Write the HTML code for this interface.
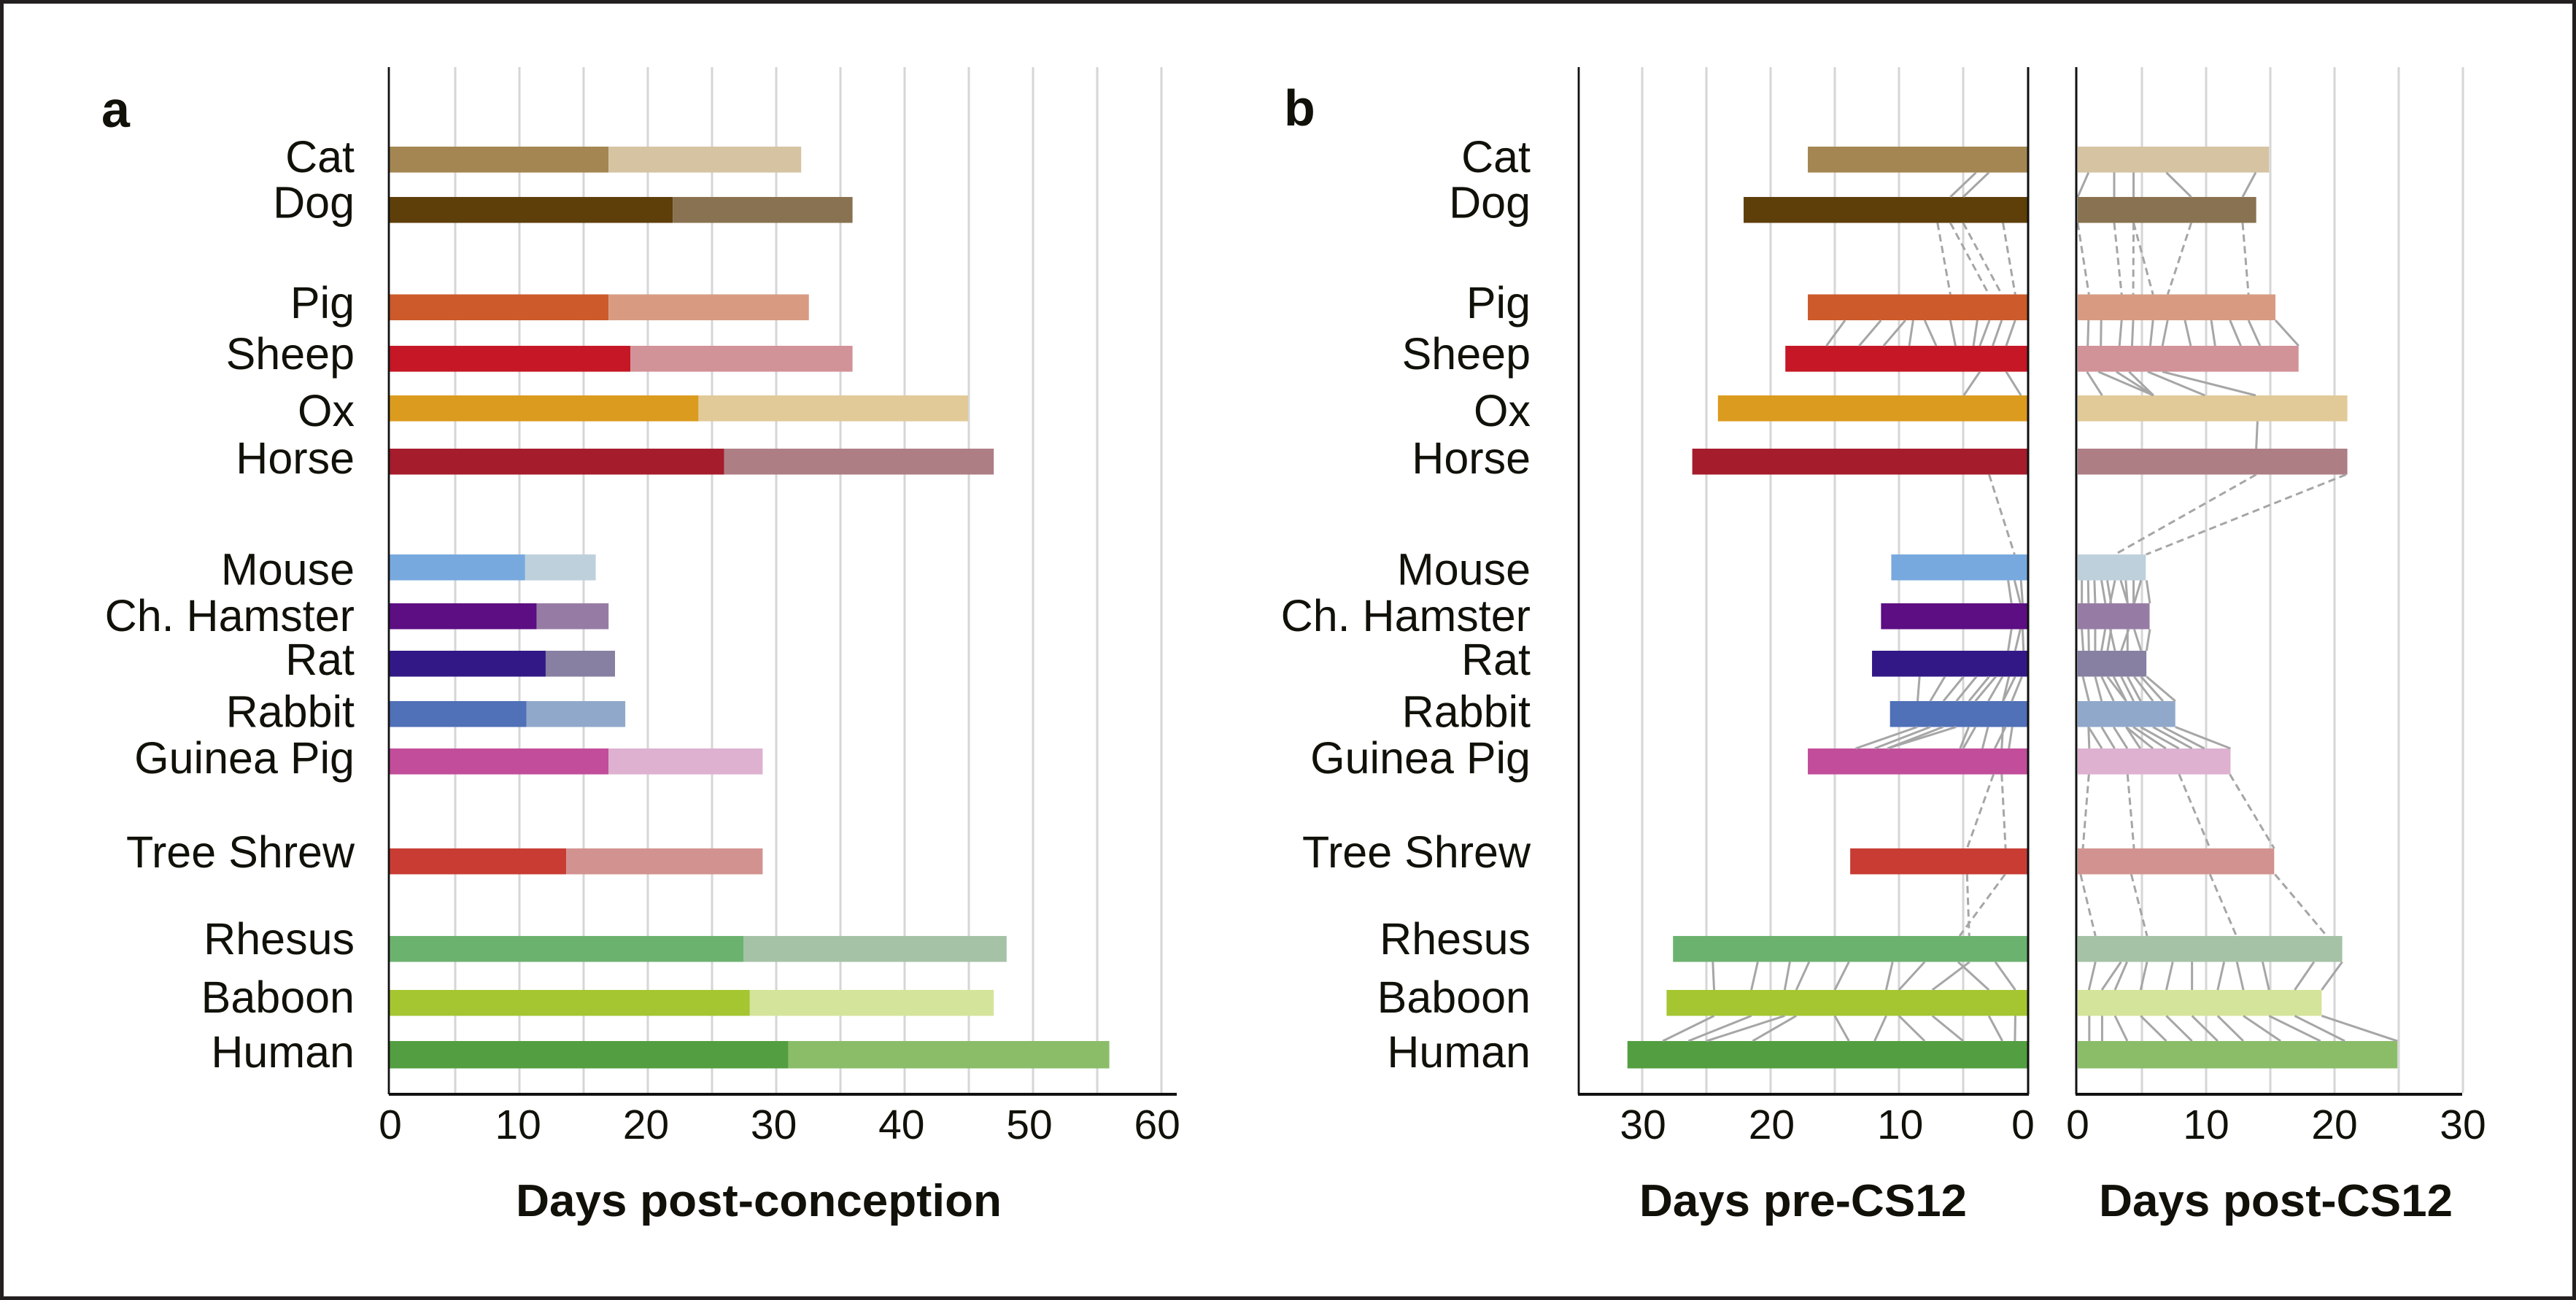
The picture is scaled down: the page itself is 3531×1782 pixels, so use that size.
<!DOCTYPE html>
<html lang="en">
<head>
<meta charset="utf-8">
<title>Gestation timelines by species</title>
<style>
html,body{margin:0;padding:0;background:#fff;}
svg{display:block;font-family:"Liberation Sans",sans-serif;fill:#11110a;}
</style>
</head>
<body>
<svg id="chart" xmlns="http://www.w3.org/2000/svg" width="3531" height="1782" viewBox="0 0 3531 1782">
  <rect x="0" y="0" width="3531" height="1782" fill="#fff"/>
  <rect x="2.5" y="2.5" width="3526" height="1777" fill="none" stroke="#231f20" stroke-width="5"/>
  <g id="grid"></g><g id="bars"></g><g id="links"></g><g id="axes"></g><g id="labels"></g>
  <text x="139" y="174" font-size="70" font-weight="700">a</text>
  <text x="1760" y="172" font-size="70" font-weight="700">b</text>
  <text x="1040" y="1667" font-size="62" font-weight="700" text-anchor="middle" textLength="666" lengthAdjust="spacingAndGlyphs">Days post-conception</text>
  <text x="2471.5" y="1667" font-size="62" font-weight="700" text-anchor="middle" textLength="449" lengthAdjust="spacingAndGlyphs">Days pre-CS12</text>
  <text x="3119.5" y="1667" font-size="62" font-weight="700" text-anchor="middle" textLength="485" lengthAdjust="spacingAndGlyphs">Days post-CS12</text>
</svg>
<script>
const species=['Cat','Dog','Pig','Sheep','Ox','Horse','Mouse','Ch. Hamster','Rat','Rabbit','Guinea Pig','Tree Shrew','Rhesus','Baboon','Human'];
const preDaysA=[17,22,17,18.7,24,26,10.5,11.4,12.1,10.6,17,13.7,27.5,28,31];
const totalDaysA=[32,36,32.6,36,45,47,16,17,17.5,18.3,29,29,48,47,56];
const preDaysB=[17.1,22.1,17.1,18.85,24.1,26.1,10.6,11.4,12.1,10.7,17.1,13.8,27.6,28.1,31.15];
const postDaysB=[14.9,13.9,15.4,17.2,21,21,5.3,5.6,5.35,7.6,11.9,15.3,20.6,19,24.9];
const darkColors=['#a48652','#5e3f09','#cc5a2b','#c51726','#db9b1e','#a51c2c','#78a9de','#5c0e82','#321886','#5070b7','#c24d9b','#c83c34','#6cb26f','#a5c630','#539e40'];
const lightColors=['#d6c3a2','#897251','#d89b82','#d19298','#e1ca98','#ae7e85','#bed0dc','#967ca5','#8780a2','#90a9cb','#ddb1cf','#d29290','#a5c2a7','#d5e49b','#8bbd69'];
const ticksA=[0,10,20,30,40,50,60];
const gridA=[5,10,15,20,25,30,35,40,45,50,55,60];
const ticksB=[0,10,20,30];
const gridB=[5,10,15,20,25,30];

// Connector day pairs: [day on upper bar, day on lower bar]
const preCatDog=[[4,6],[3,5]];
const preDogPig=[[7,6],[6,3],[5,2],[1.9,0.95]];
const prePigSheep=[[14.2,15.65],[11.4,13.1],[9.5,11.2],[8.9,9.2],[8,7.1],[6,5.6],[3.9,4.2],[2.95,3.7],[2,2.7],[0.95,1.65]];
const preSheepOx=[[3.7,4.95],[1.65,0.5]];
const preHorseMouse=[[2.98,1]];
const preMouseHamster=[[1.5,1.24],[1,0.55],[0.5,0.37]];
const preHamsterRat=[[1.24,1.5],[0.55,0.95],[0.37,0.3]];
const preRatRabbit=[[8.4,8.55],[6.43,7.56],[4.98,6.54],[3.97,5.53],[2.98,4.55],[2.46,4.05],[1.94,3.04],[0.95,1.9],[1.44,1.9],[0.43,1.21]];
const preRabbitGuinea=[[8.57,13.38],[7.56,11.9],[6.57,10.9],[5.56,10.9],[4.57,5.24],[4.05,5],[3.07,3.5],[1.7,2.54],[1.9,2],[1.18,1.44]];
const preGuineaTree=[[2.64,4.7],[2,1.7]];
const preTreeRhesus=[[4.7,4.53],[1.74,5.28]];
const preRhesusBaboon=[[24.5,24.4],[21,21.5],[18.5,18.9],[17,18],[13.9,15],[10.5,11],[8,10],[4.5,7.4],[5.4,3],[2.5,0.94]];
const preBaboonHuman=[[24.4,28.4],[21.5,26.4],[18.9,25],[18,21.4],[15,13.9],[11,11.9],[10,8],[7.4,5],[3,1.95],[0.94,0.97]];

const postCatDog=[[0.84,0],[2.84,2.84],[4.35,4.35],[6.9,8.84],[13.86,12.84]];
const postDogPig=[[0,0.87],[2.84,3.42],[4.35,4.32],[4.35,5.86],[8.84,7.01],[12.84,13.3]];
const postPigSheep=[[0.84,0.78],[1.83,1.8],[3.42,3.25],[4.32,4.23],[5.86,5.65],[7,6.6],[8.35,8.8],[10.4,10.7],[11.86,12.7],[13.3,14.2],[15.4,17.2]];
const postSheepOx=[[0.72,1.9],[1.6,5.9],[3,5.9],[4,5.9],[5.45,9.9],[6.6,13.86]];
const postOxHorse=[[14,13.9]];
const postHorseMouse=[[13.9,2.9],[20.9,5.33]];
const postMouseHamster=[[0.32,0.32],[0.81,0.84],[1.3,1.36],[1.85,2.15],[2.3,2.6],[2.9,2.52],[3.35,3.88],[3.74,3.88],[4.35,4.35],[4.93,4.4],[5.36,5.62]];
const postHamsterRat=[[0.32,0.43],[0.84,0.87],[1.36,1.36],[2.14,1.85],[2.6,2.32],[2.52,2.9],[3.97,3.39],[3.88,3.88],[4.4,4.93],[5.62,5.36]];
const postRatRabbit=[[0.4,0.87],[1.36,1.86],[1.86,2.8],[2.32,3.77],[2.8,3.77],[3.39,4.35],[3.88,4.9],[4.4,5.86],[4.93,6.64],[5.36,7.6]];
const postRabbitGuinea=[[0.84,0.9],[0.84,1.88],[1.86,2.87],[2.8,3.86],[3.77,4.87],[3.77,5.86],[4.32,6.87],[4.9,7.88],[5.86,8.9],[6.64,9.86],[7.6,11.9]];
const postGuineaTree=[[0.87,0.4],[3.88,4.38],[7.9,10.3],[11.85,15.3]];
const postTreeRhesus=[[0.22,1.38],[4.17,5.4],[10.3,12.36],[15.36,19.4]];
const postRhesusBaboon=[[1.38,0.87],[3.37,1.88],[3.84,2.9],[5.4,4.9],[7.4,6.9],[8.9,8.9],[11.4,10.9],[12.4,12.9],[14.4,14.9],[18.4,16.9],[20.6,19]];
const postBaboonHuman=[[0.9,0.9],[1.9,1.9],[2.9,3.86],[4.9,6.9],[6.9,8.9],[8.9,10.9],[10.9,12.9],[12.9,15.8],[14.9,18.9],[16.9,20.8],[19,24.9]];

const preLinkSets=[['Cat','Dog',preCatDog,false],['Dog','Pig',preDogPig,true],['Pig','Sheep',prePigSheep,false],['Sheep','Ox',preSheepOx,false],['Horse','Mouse',preHorseMouse,true],['Mouse','Ch. Hamster',preMouseHamster,false],['Ch. Hamster','Rat',preHamsterRat,false],['Rat','Rabbit',preRatRabbit,false],['Rabbit','Guinea Pig',preRabbitGuinea,false],['Guinea Pig','Tree Shrew',preGuineaTree,true],['Tree Shrew','Rhesus',preTreeRhesus,true],['Rhesus','Baboon',preRhesusBaboon,false],['Baboon','Human',preBaboonHuman,false]];
const postLinkSets=[['Cat','Dog',postCatDog,false],['Dog','Pig',postDogPig,true],['Pig','Sheep',postPigSheep,false],['Sheep','Ox',postSheepOx,false],['Ox','Horse',postOxHorse,false],['Horse','Mouse',postHorseMouse,true],['Mouse','Ch. Hamster',postMouseHamster,false],['Ch. Hamster','Rat',postHamsterRat,false],['Rat','Rabbit',postRatRabbit,false],['Rabbit','Guinea Pig',postRabbitGuinea,false],['Guinea Pig','Tree Shrew',postGuineaTree,true],['Tree Shrew','Rhesus',postTreeRhesus,true],['Rhesus','Baboon',postRhesusBaboon,false],['Baboon','Human',postBaboonHuman,false]];

const NS='http://www.w3.org/2000/svg';
function sxA(v){return 536+17.6*v;}
function barXA(v){return 535+17.6*v;}
function sxPre(v){return 2779-17.6*v;}
function sxPost(v){return 2848+17.6*v;}
function labelXA(v){return 535+17.52*v;}
function labelXPre(v){return v===0?2773:2781+v*-17.63;}
function labelXPost(v){return 2848+17.6*v;}
function rowTop(i){
  const slot=[0,1.006,2.952,3.98,4.971,6.035,8.149,9.125,10.073,11.079,12.026,14.023,15.773,16.851,17.872][i];
  return 201+68.6*slot;
}
function rowHeight(i){return i===14?37.5:35.5;}
function rowBottom(i){return rowTop(i)+rowHeight(i);}
function labelBaseline(i){
  return [236,298.5,436,506,584,649,801.7,865,925,996.7,1060,1189,1308,1388,1463][i];
}
function make(tag,parent,attrs,text){
  const el=document.createElementNS(NS,tag);
  for(const k in attrs){el.setAttribute(k,attrs[k]);}
  if(text!==undefined){el.textContent=String(text);}
  parent.appendChild(el);
  return el;
}
function slug(s){return s.toLowerCase().replace(/[^a-z]+/g,'-');}
const gGrid=document.getElementById('grid'),gBars=document.getElementById('bars'),gLinks=document.getElementById('links'),gAxes=document.getElementById('axes'),gLabels=document.getElementById('labels');
const GRID_TOP=92,GRID_BOTTOM=1498,AXIS_Y=1500;

function drawGrid(values,sx,panel){
  values.forEach(function(v){
    const el=make('line',gGrid,{x1:sx(v),x2:sx(v),y1:GRID_TOP,y2:GRID_BOTTOM,stroke:'#d6d6d6','stroke-width':3});
    
    
  });
}
drawGrid(gridA,sxA,'panel-a');
drawGrid(gridB,sxPre,'pre-cs12');
drawGrid(gridB,sxPost,'post-cs12');

species.forEach(function(name,i){
  const y=rowTop(i),h=rowHeight(i),s=slug(name);
  const a1=make('rect',gBars,{x:barXA(0)-2,y:y,width:barXA(preDaysA[i])-barXA(0)+2,height:h,fill:darkColors[i]});
  
  
  const a2=make('rect',gBars,{x:barXA(preDaysA[i]),y:y,width:barXA(totalDaysA[i])-barXA(preDaysA[i]),height:h,fill:lightColors[i]});
  
  
  const b1=make('rect',gBars,{x:sxPre(preDaysB[i]),y:y,width:sxPre(0)-sxPre(preDaysB[i]),height:h,fill:darkColors[i]});
  
  
  const b2=make('rect',gBars,{x:sxPost(0),y:y,width:sxPost(postDaysB[i])-sxPost(0),height:h,fill:lightColors[i]});
  
  
  const la=make('text',gLabels,{x:486,y:labelBaseline(i),'font-size':61,'text-anchor':'end'},name);
  
  
  const lb=make('text',gLabels,{x:2098,y:labelBaseline(i),'font-size':61,'text-anchor':'end'},name);
  
  
});

function drawLinks(sets,sx,panel){
  sets.forEach(function(set){
    const u=species.indexOf(set[0]),l=species.indexOf(set[1]);
    set[2].forEach(function(pair,k){
      const el=make('line',gLinks,{x1:sx(pair[0]),y1:rowBottom(u),x2:sx(pair[1]),y2:rowTop(l),stroke:'#a6a6a6','stroke-width':3});
      if(set[3]){el.setAttribute('stroke-dasharray','10 6');}
      
      
    });
  });
}
drawLinks(preLinkSets,sxPre,'pre-cs12');
drawLinks(postLinkSets,sxPost,'post-cs12');

function axisLine(name,x1,y1,x2,y2,w){
  const el=make('line',gAxes,{x1:x1,y1:y1,x2:x2,y2:y2,stroke:'#111','stroke-width':w});
  
  
}
axisLine('panel-a-y-axis',533,GRID_TOP,533,AXIS_Y,2.8);
axisLine('panel-a-x-axis',533,AXIS_Y,1613,AXIS_Y,4);
axisLine('pre-cs12-left-axis',2164,GRID_TOP,2164,AXIS_Y,2.8);
axisLine('pre-cs12-zero-axis',2780,GRID_TOP,2780,AXIS_Y,3);
axisLine('pre-cs12-x-axis',2163,AXIS_Y,2781,AXIS_Y,4);
axisLine('post-cs12-zero-axis',2846,GRID_TOP,2846,AXIS_Y,3);
axisLine('post-cs12-x-axis',2845,AXIS_Y,3375,AXIS_Y,4);

function drawTicks(values,lx,panel){
  values.forEach(function(v){
    const el=make('text',gLabels,{x:lx(v),y:1561,'font-size':57,'text-anchor':'middle'},v);
    
    
  });
}
drawTicks(ticksA,labelXA,'panel-a');
drawTicks(ticksB,labelXPre,'pre-cs12');
drawTicks(ticksB,labelXPost,'post-cs12');
</script>
</body>
</html>
